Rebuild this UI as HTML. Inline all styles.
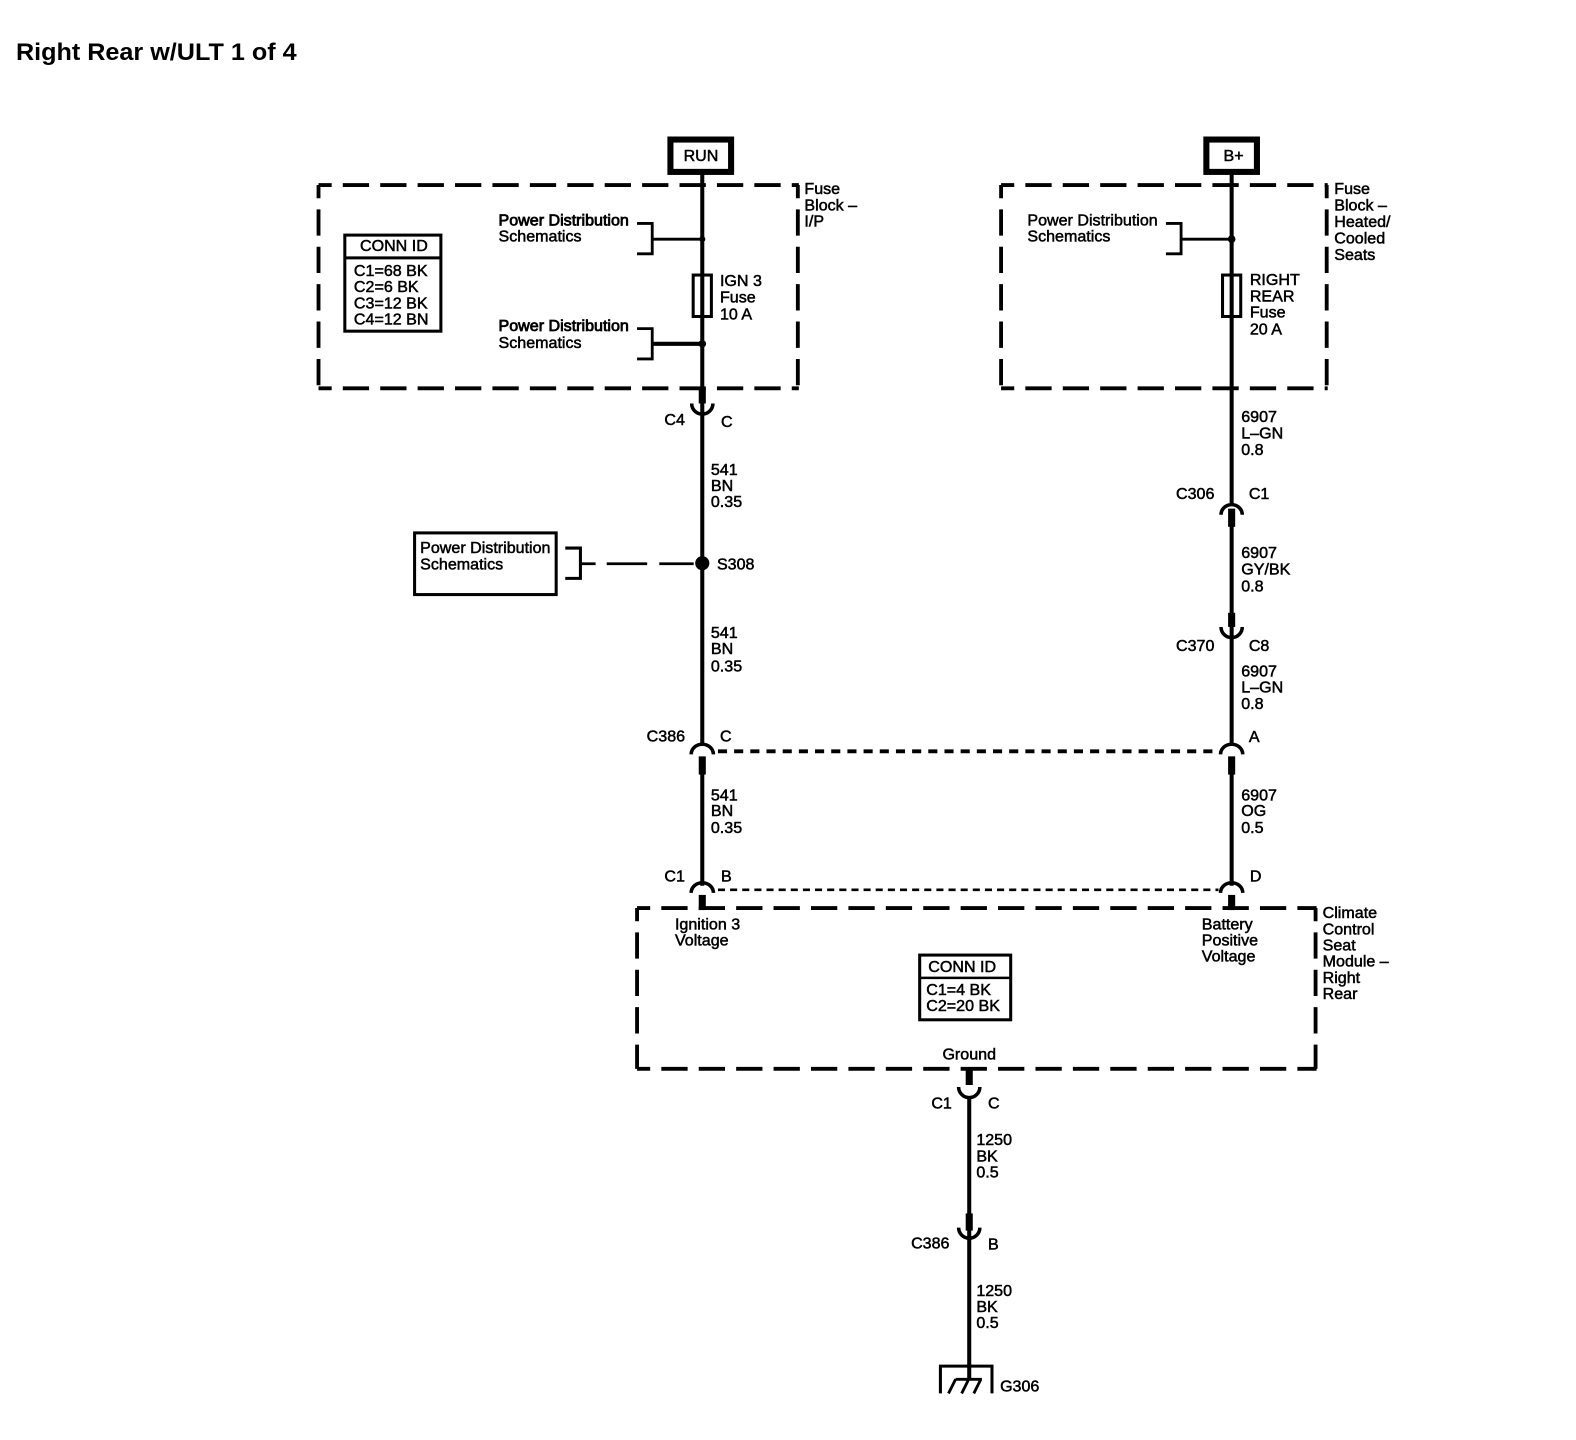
<!DOCTYPE html>
<html><head><meta charset="utf-8"><style>
html,body{margin:0;padding:0;background:#fff}
svg{display:block}
text{font-family:"Liberation Sans",Arial,sans-serif;font-size:15.9px;fill:#000;stroke:#000;stroke-width:.5}
</style></head><body>
<svg width="1576" height="1440" viewBox="0 0 1576 1440" xmlns="http://www.w3.org/2000/svg">
<rect width="1576" height="1440" fill="#fff"/>
<g transform="scale(1.0112)">
<text x="15.800" y="59.400" style="font-size:24px;font-weight:bold;stroke:none" textLength="277.500" lengthAdjust="spacingAndGlyphs">Right Rear w/ULT 1 of 4</text>

<g fill="none" stroke="#000">
<!-- dashed boxes -->
<g stroke-width="3.8" stroke-dasharray="26 11" stroke-dashoffset="13">
<path d="M315 183H790"/><path d="M315 384H790"/><path d="M315 183V384"/><path d="M789 183V384"/>
<path d="M990 183H1313"/><path d="M990 384H1313"/><path d="M990 183V384"/><path d="M1312 183V384"/>
<path d="M630 898H1302"/><path d="M630 1057H1302"/><path d="M630 898V1057"/><path d="M1301 898V1057"/>
</g>
<!-- wires -->
<g stroke-width="4">
<path d="M694.500 172V736"/><path d="M694.500 764V876"/>
<path d="M1218 172V500"/><path d="M1218 520V736"/><path d="M1218 764V876"/>
<path d="M958.500 1085V1365"/>
</g>
<!-- stubs -->
<g stroke-width="7">
<path d="M694.500 384V399"/><path d="M694.500 748V766"/><path d="M694.500 885V900"/>
<path d="M1218 503V521"/><path d="M1218 606V620"/><path d="M1218 748V766"/><path d="M1218 885V900"/>
<path d="M958.500 1058V1073"/><path d="M958.500 1200V1217"/>
</g>
<!-- connector arcs -->
<g stroke-width="3.5">
<path d="M684 399a10.500 10.500 0 0 0 21 0"/>
<path d="M1207.500 620a10.500 10.500 0 0 0 21 0"/>
<path d="M948 1075a10.500 10.500 0 0 0 21 0"/>
<path d="M948 1214a10.500 10.500 0 0 0 21 0"/>
<path d="M683.500 746a11 10 0 0 1 22 0"/>
<path d="M1207 746a11 10 0 0 1 22 0"/>
<path d="M1207.500 509a10.500 10 0 0 1 21 0"/>
<path d="M683.500 883a11 10 0 0 1 22 0"/>
<path d="M1207 883a11 10 0 0 1 22 0"/>
</g>
<!-- shielded links -->
<path d="M710 743H1205" stroke-width="3.800" stroke-dasharray="9 7"/>
<path d="M710 880H1205" stroke-width="2.600" stroke-dasharray="7 5"/>
<!-- power boxes -->
<rect x="663" y="138" width="60" height="32" stroke-width="6"/>
<rect x="1193" y="138" width="50" height="32" stroke-width="6"/>
<!-- conn id -->
<rect x="341" y="232.500" width="95" height="95" stroke-width="3"/>
<path d="M341 255H437" stroke-width="3"/>
<rect x="909.500" y="944.500" width="90" height="64" stroke-width="3"/>
<path d="M909 967H1000" stroke-width="2.500"/>
<!-- fuses -->
<rect x="685.500" y="272" width="18" height="41" stroke-width="3"/>
<rect x="1209" y="272" width="18" height="41" stroke-width="3"/>
<!-- brackets -->
<g stroke-width="2.800">
<path d="M630 221H645V251H630"/>
<path d="M630 325H645V355H630"/>
<path d="M1153 221H1168V251H1153"/>
<path d="M559 542H574V572H559" stroke-width="3"/>
</g>
<path d="M645 236.500H694" stroke-width="2.800"/>
<path d="M645 340H694" stroke-width="4"/>
<path d="M1168 236.500H1218" stroke-width="2.800"/>
<path d="M574 557.500H589M600 557.500H640M652 557.500H686" stroke-width="2.800"/>
<rect x="410" y="527" width="140" height="61" stroke-width="3"/>
<!-- ground -->
<path d="M930 1378V1351H981V1378" stroke-width="3"/>
<path d="M938 1378L945 1364M951 1378L958 1364M963 1378L970 1364M945 1364H971" stroke-width="2.800"/>
</g>
<circle cx="694.500" cy="236.500" r="3" fill="#000"/>
<circle cx="694.500" cy="340" r="3.800" fill="#000"/>
<circle cx="1218" cy="236.500" r="3.800" fill="#000"/>
<circle cx="694.500" cy="557" r="7" fill="#000"/>

<text x="676" y="159">RUN</text>
<text x="1210" y="159">B+</text>

<text x="795.500" y="192">Fuse</text><text x="795.500" y="208">Block –</text><text x="795.500" y="224">I/P</text>
<text x="1319.500" y="192">Fuse</text><text x="1319.500" y="208">Block –</text><text x="1319.500" y="224.500">Heated/</text><text x="1319.500" y="241">Cooled</text><text x="1319.500" y="257">Seats</text>

<text x="493" y="223" style="stroke-width:.8">Power Distribution</text><text x="493" y="327.500" style="stroke-width:.8">Power Distribution</text>
<text x="493" y="239">Schematics</text><text x="493" y="344">Schematics</text>
<text x="1016" y="223">Power Distribution</text><text x="1016" y="239">Schematics</text>
<text x="415.500" y="547">Power Distribution</text><text x="415.500" y="563">Schematics</text>

<text x="356" y="248">CONN ID</text>
<text x="350" y="273">C1=68 BK</text><text x="350" y="289">C2=6 BK</text><text x="350" y="305">C3=12 BK</text><text x="350" y="321">C4=12 BN</text>

<text x="712" y="283">IGN 3</text><text x="712" y="299">Fuse</text><text x="712" y="316">10 A</text>
<text x="1236" y="282">RIGHT</text><text x="1236" y="298">REAR</text><text x="1236" y="314">Fuse</text><text x="1236" y="331">20 A</text>

<text x="657" y="420.500">C4</text><text x="713" y="422.500">C</text>
<text x="703" y="469.500">541</text><text x="703" y="485.500">BN</text><text x="703" y="501.500">0.35</text>
<text x="709" y="563">S308</text>
<text x="703" y="631">541</text><text x="703" y="647">BN</text><text x="703" y="664">0.35</text>
<text x="639.500" y="733.500">C386</text><text x="712" y="733.500">C</text>
<text x="703" y="791.500">541</text><text x="703" y="807">BN</text><text x="703" y="824">0.35</text>
<text x="657" y="871.500">C1</text><text x="713" y="871.500">B</text>

<text x="1227.500" y="417.500">6907</text><text x="1227.500" y="433.500">L–GN</text><text x="1227.500" y="450">0.8</text>
<text x="1163" y="493.500">C306</text><text x="1235" y="493.500">C1</text>
<text x="1227.500" y="552">6907</text><text x="1227.500" y="568">GY/BK</text><text x="1227.500" y="585">0.8</text>
<text x="1163" y="644">C370</text><text x="1235" y="644">C8</text>
<text x="1227.500" y="669">6907</text><text x="1227.500" y="685">L–GN</text><text x="1227.500" y="701">0.8</text>
<text x="1235" y="734">A</text>
<text x="1227.500" y="791.500">6907</text><text x="1227.500" y="807">OG</text><text x="1227.500" y="824">0.5</text>
<text x="1236" y="871.500">D</text>

<text x="667.500" y="919">Ignition 3</text><text x="667.500" y="935">Voltage</text>
<text x="1188.500" y="919">Battery</text><text x="1188.500" y="935">Positive</text><text x="1188.500" y="951">Voltage</text>
<text x="1308" y="908">Climate</text><text x="1308" y="924">Control</text><text x="1308" y="940">Seat</text><text x="1308" y="956">Module –</text><text x="1308" y="972">Right</text><text x="1308" y="988">Rear</text>

<text x="918" y="961">CONN ID</text><text x="916" y="984">C1=4 BK</text><text x="916" y="1000">C2=20 BK</text>

<text x="932" y="1048">Ground</text>
<text x="921" y="1096">C1</text><text x="977" y="1096">C</text>
<text x="965.500" y="1132.500">1250</text><text x="965.500" y="1148.500">BK</text><text x="965.500" y="1164.500">0.5</text>
<text x="901" y="1234.500">C386</text><text x="977" y="1235.500">B</text>
<text x="965.500" y="1281.500">1250</text><text x="965.500" y="1297.500">BK</text><text x="965.500" y="1313.500">0.5</text>
<text x="989" y="1376">G306</text>
</g>
</svg>
</body></html>
